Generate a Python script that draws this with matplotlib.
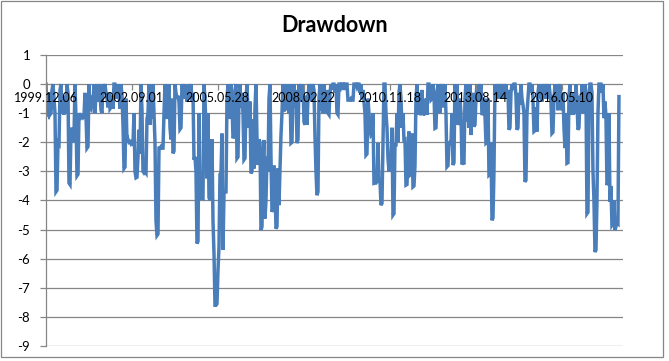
import numpy as np
import matplotlib
matplotlib.use("Agg")
import matplotlib.pyplot as plt
from matplotlib.patches import Rectangle

# ---- data (drawdown %, sampled about every 11.6 days from 1999-12-06) ----
start_offset_days = 5.8
step_days = 11.62
drawdown = [
    0, -1.0, -1.05, -0.3, -1.05, -1.0, -0.2, 0, -0.5, -1.0,
    -3.7, -3.65, -2.0, -2.05, -0.2, 0, -1.0, -0.9, -1.05, -0.4,
    -1.0, 0, -0.3, -3.4, -3.45, -1.6, -1.5, -2.0, -1.8, 0,
    -1.2, -3.15, -3.1, -1.0, -1.1, -1.15, -1.1, -1.15, -1.1, -0.3,
    -1.1, -2.2, -2.15, 0, -0.8, -0.85, -0.4, -0.85, 0, -1.0,
    -0.3, 0, -0.6, 0, -0.3, -0.9, -1.0, 0, -0.2, 0,
    -0.3, -0.5, -0.8, -0.3, -0.85, -0.8, -0.4, -0.85, 0, 0,
    -0.1, -0.5, 0, -0.3, -0.85, 0, -0.4, -1.4, -2.9, -2.85,
    -0.5, -1.98, -1.9, -2.0, -1.98, -2.05, -2.0, -2.05, -1.0, -3.0,
    -3.22, -3.2, -2.5, -1.57, -2.4, 0, -0.9, -3.0, -3.05, -3.0,
    -3.05, -1.2, -1.0, 0, -1.4, -0.5, -1.2, 0, -1.0, -2.0,
    -4.7, -5.2, -5.15, -2.2, -2.2, -2.15, -2.2, -2.2, -1.0, 0,
    -0.3, -1.2, -0.4, 0, -1.5, -1.9, -0.5, -2.38, -2.3, 0,
    -0.3, -0.5, -0.4, -0.6, -1.55, -1.5, 0, -0.3, 0, -0.5,
    -0.1, -0.6, 0, -0.5, -0.2, 0, -0.6, -0.3, -2.6, -2.5,
    -3.0, -5.48, -5.4, -1.0, -3.9, -3.93, -3.9, -3.92, 0, -0.5,
    -1.5, -3.24, -1.0, -3.9, -3.99, -3.0, -1.9, -4.7, -5.8, -7.6,
    -7.6, -7.55, -6.4, -5.6, -3.1, -3.05, -1.7, -5.7, -3.76, -3.7,
    -3.7, -0.5, 0, -1.2, -0.3, 0, -0.6, -1.86, -1.8, -0.2,
    0, -2.55, -2.5, -0.5, 0, -0.8, -0.3, -1.0, -2.6, -2.55,
    -0.5, 0, -1.0, -1.5, -0.6, -3.07, -3.0, -1.2, -2.9, -0.8,
    0, -1.86, -2.78, -1.9, -2.0, -5.02, -4.9, -2.5, -1.92, -4.62,
    -4.0, -2.5, -3.0, -0.5, 0, -2.5, -4.39, -4.3, -2.8, -3.5,
    -4.97, -4.9, -2.9, -4.16, -3.0, -1.75, -1.0, 0, -0.94, -0.3,
    0, -0.9, -0.2, -1.0, 0, -2.03, -2.0, -0.3, 0, -0.8,
    -0.2, -2.03, -1.9, 0, -0.3, 0, -0.6, 0, -1.3, -1.4,
    -0.4, -1.4, -0.5, 0, -0.3, 0, -0.6, 0, -0.2, -1.8,
    -3.0, -3.82, -3.7, -0.5, 0, -0.9, -0.3, -1.0, 0, -0.5,
    -1.0, -0.2, -1.0, -1.05, -0.3, 0, -0.2, 0, 0, -0.3,
    0, -1.0, -1.05, 0, 0, -0.1, 0, 0, -0.2, 0,
    0, 0, -0.55, -0.55, -0.55, -0.5, -0.55, -0.55, 0, 0,
    0, -0.1, 0, 0, -0.3, 0, -0.5, -0.2, -0.6, -1.0,
    -2.44, -2.4, -0.5, -1.0, -1.5, -1.75, -1.7, -1.0, -3.41, -3.4,
    -3.4, -3.35, -2.03, -3.36, -3.3, -4.16, -4.1, -2.0, 0, 0,
    -1.0, -1.5, -2.55, -3.0, -2.5, -2.8, -1.5, -4.5, -4.45, -2.09,
    -2.09, -1.0, -2.0, -0.3, 0, -0.5, -1.5, -1.0, -1.92, -1.9,
    -3.47, -3.45, -2.5, -1.63, -3.13, -3.1, -1.7, -3.53, -3.5, -2.8,
    -0.5, 0, -1.06, -0.3, -1.06, -1.0, -0.2, -1.06, -1.0, -1.06,
    -0.5, -1.06, 0, 0, -0.2, -0.54, -0.5, 0, -0.3, -1.52,
    -1.5, -0.4, 0, -0.5, -1.0, -0.2, 0, -0.8, -0.3, 0,
    -1.0, -2.84, -2.8, -2.03, -2.0, -2.03, -1.0, -2.78, -2.7, 0,
    -0.5, 0, -1.4, -1.3, -0.5, -1.0, -2.76, -2.7, -2.76, -0.5,
    0, -1.3, -0.4, -1.5, 0, -1.75, -1.0, -0.3, -1.46, -1.4,
    -0.5, 0, -0.6, 0, -0.3, 0, -1.06, -1.0, -0.5, -1.06,
    -2.03, -2.0, -0.5, -3.13, -3.1, -2.0, -4.68, -4.6, -3.0, 0,
    -0.5, 0, -0.3, 0, -0.5, -0.2, 0, -0.5, 0, -0.3,
    0, -0.5, -0.2, -1.57, -1.5, -0.3, 0, -0.2, 0, 0,
    -0.4, -1.57, -1.5, -0.3, -0.7, 0, -0.5, -0.7, -1.0, -3.36,
    -3.3, -1.0, -0.5, 0, 0, -0.3, 0, -0.5, -1.63, -1.6,
    -0.8, -1.63, -0.3, 0, -0.5, 0, -0.6, -0.2, 0, -0.5,
    -0.2, 0, -0.5, 0, -0.3, -0.6, -1.69, -1.65, -0.5, 0,
    -0.6, 0, -0.9, -0.2, 0, -0.5, -0.9, -0.3, -1.5, -2.2,
    -1.0, -2.72, -2.7, -0.5, 0, -1.06, -0.5, -1.06, -0.3, -1.0,
    0, -0.6, -1.57, -1.5, -0.4, -1.0, 0, -0.5, -1.0, 0,
    -0.3, -4.45, -4.4, -0.5, 0, 0, -0.3, -3.0, -4.0, -5.77,
    -5.7, -4.05, -1.0, 0, 0, 0, -0.3, 0, -1.17, -0.6,
    -1.1, -3.47, -3.4, -1.0, -4.05, -3.5, -4.85, -4.8, -4.0, -5.02,
    -4.9, -4.77, -4.8, -0.43,
]
tick_days = [0, 1000, 2000, 3000, 4000, 5000, 6000]
tick_labels = ["1999.12.06", "2002.09.01", "2005.05.28", "2008.02.22",
               "2010.11.18", "2013.08.14", "2016.05.10"]
y_ticks = [1, 0, -1, -2, -3, -4, -5, -6, -7, -8, -9]

days = start_offset_days + step_days * np.arange(len(drawdown))

# ---- figure ----
W, H = 669, 361
fig = plt.figure(figsize=(W / 100, H / 100), dpi=100)
font = ["Lato", "DejaVu Sans"]
grid_c = "#868686"

ax = fig.add_axes([45.5 / W, 1 - 346 / H, (623 - 45.5) / W, (346 - 55) / H])
ax.set_xlim(0, 6711)
ax.set_ylim(-9, 1)

for yv in y_ticks:
    ax.axhline(yv, color=grid_c, lw=0.9, zorder=1)

ax.plot(days, drawdown, color="#4A7EBB", lw=2.5, solid_joinstyle="miter", zorder=2)

for s in ["top", "right", "bottom"]:
    ax.spines[s].set_visible(False)
ax.spines["left"].set_color(grid_c)
ax.spines["left"].set_linewidth(0.9)
ax.spines["bottom"].set_position(("data", 0))

ax.set_yticks(y_ticks)
ax.set_yticklabels([str(v) for v in y_ticks], fontfamily=font, fontsize=9.5)
ax.tick_params(axis="y", length=4, color=grid_c, width=0.9, pad=7)

ax.set_xticks(tick_days)
ax.set_xticklabels(tick_labels, fontfamily=font, fontsize=9)
ax.tick_params(axis="x", length=4, color=grid_c, width=0.9, pad=2)
ax.set_axisbelow(False)
for lab in ax.get_xticklabels() + ax.get_yticklabels():
    lab.set_zorder(5)

fig.text(334.5 / W, 1 - 25 / H, "Drawdown", ha="center", va="center",
         fontfamily=font, fontsize=15.5, fontweight="bold", color="black")

fig.patches.append(Rectangle((1 / W, 1 - 357 / H), 662 / W, 356.5 / H,
                             transform=fig.transFigure, fill=False,
                             edgecolor=grid_c, lw=0.9))

fig.savefig("out.png", dpi=100)
